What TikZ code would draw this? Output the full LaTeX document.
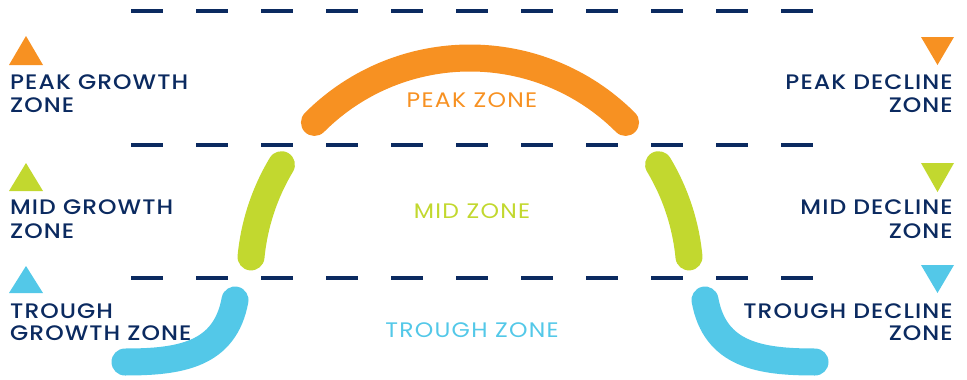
\documentclass[tikz,border=0pt]{standalone}
\usepackage{fontspec}
\setmainfont{Poppins}[FakeStretch=1.12, LetterSpace=6]
\IfFontExistsTF{Poppins Medium}{\newfontfamily\labfont{Poppins Medium}[FakeStretch=1.12, LetterSpace=5]}{\newfontfamily\labfont{Poppins}[FakeBold=1, FakeStretch=1.12, LetterSpace=5]}
\definecolor{navy}{HTML}{0B2A60}
\definecolor{zorange}{HTML}{F79122}
\definecolor{zgreen}{HTML}{C2D82F}
\definecolor{zblue}{HTML}{53C8E8}
\begin{document}
\begin{tikzpicture}[x=1pt,y=-1pt,
  dashline/.style={draw=navy, line width=4pt, dash pattern=on 32pt off 33pt},
  zonearc/.style={line width=27pt, line cap=round},
  lab/.style={text=navy, font=\labfont\fontsize{21}{23}\selectfont, inner sep=0pt},
  lableft/.style={lab, anchor=base west},
  labright/.style={lab, anchor=base east},
  zonelab/.style={font=\fontsize{21}{23}\selectfont, inner sep=0pt, anchor=base}]
\useasboundingbox (0,0) rectangle (967,380);
% dashed zone borders
\draw[dashline] (131,11) -- (813,11);
\draw[dashline] (131,145) -- (813,145);
\draw[dashline] (131,278) -- (813,278);
% peak arc
\draw[zonearc, zorange] (470,278) ++(225:220) arc[start angle=225, end angle=315, radius=220];
% mid arcs
\draw[zonearc, zgreen] (470,278) ++(211:220) arc[start angle=211, end angle=185.5, radius=220];
\draw[zonearc, zgreen] (470,278) ++(329:220) arc[start angle=329, end angle=354.5, radius=220];
% trough arcs
\draw[zonearc, zblue] (235,300) .. controls (225,355) and (180,362) .. (125,362);
\draw[zonearc, zblue] (705,300) .. controls (715,355) and (760,362) .. (815,362);
% zone names
\node[zonelab, text=zorange] (pz) at (472,107) {PEAK ZONE};
\node[zonelab, text=zgreen] (mz) at (472,218) {MID ZONE};
\node[zonelab, text=zblue] (tz) at (472,337) {TROUGH ZONE};
% left triangles
\fill[zorange] (9,65) -- (43,65) -- (26,36) -- cycle;
\fill[zgreen] (9,191) -- (43,191) -- (26,163) -- cycle;
\fill[zblue] (9,293) -- (43,293) -- (26,266) -- cycle;
% right triangles
\fill[zorange] (921,37) -- (954,37) -- (937.5,65) -- cycle;
\fill[zgreen] (921,163) -- (954,163) -- (937.5,192) -- cycle;
\fill[zblue] (921,265) -- (954,265) -- (937.5,293) -- cycle;
% left labels
\node[lableft] (pg1) at (10,89) {PEAK GROWTH};
\node[lableft] (pg2) at (10,112) {ZONE};
\node[lableft] (mg1) at (10,214) {MID GROWTH};
\node[lableft] (mg2) at (10,238) {ZONE};
\node[lableft] (tg1) at (10,318) {TROUGH};
\node[lableft] (tg2) at (10,340) {GROWTH ZONE};
% right labels
\node[labright] (pd1) at (953,89) {PEAK DECLINE};
\node[labright] (pd2) at (953,112) {ZONE};
\node[labright] (md1) at (953,214) {MID DECLINE};
\node[labright] (md2) at (953,238) {ZONE};
\node[labright] (td1) at (953,318) {TROUGH DECLINE};
\node[labright] (td2) at (953,340) {ZONE};
\end{tikzpicture}
\end{document}
